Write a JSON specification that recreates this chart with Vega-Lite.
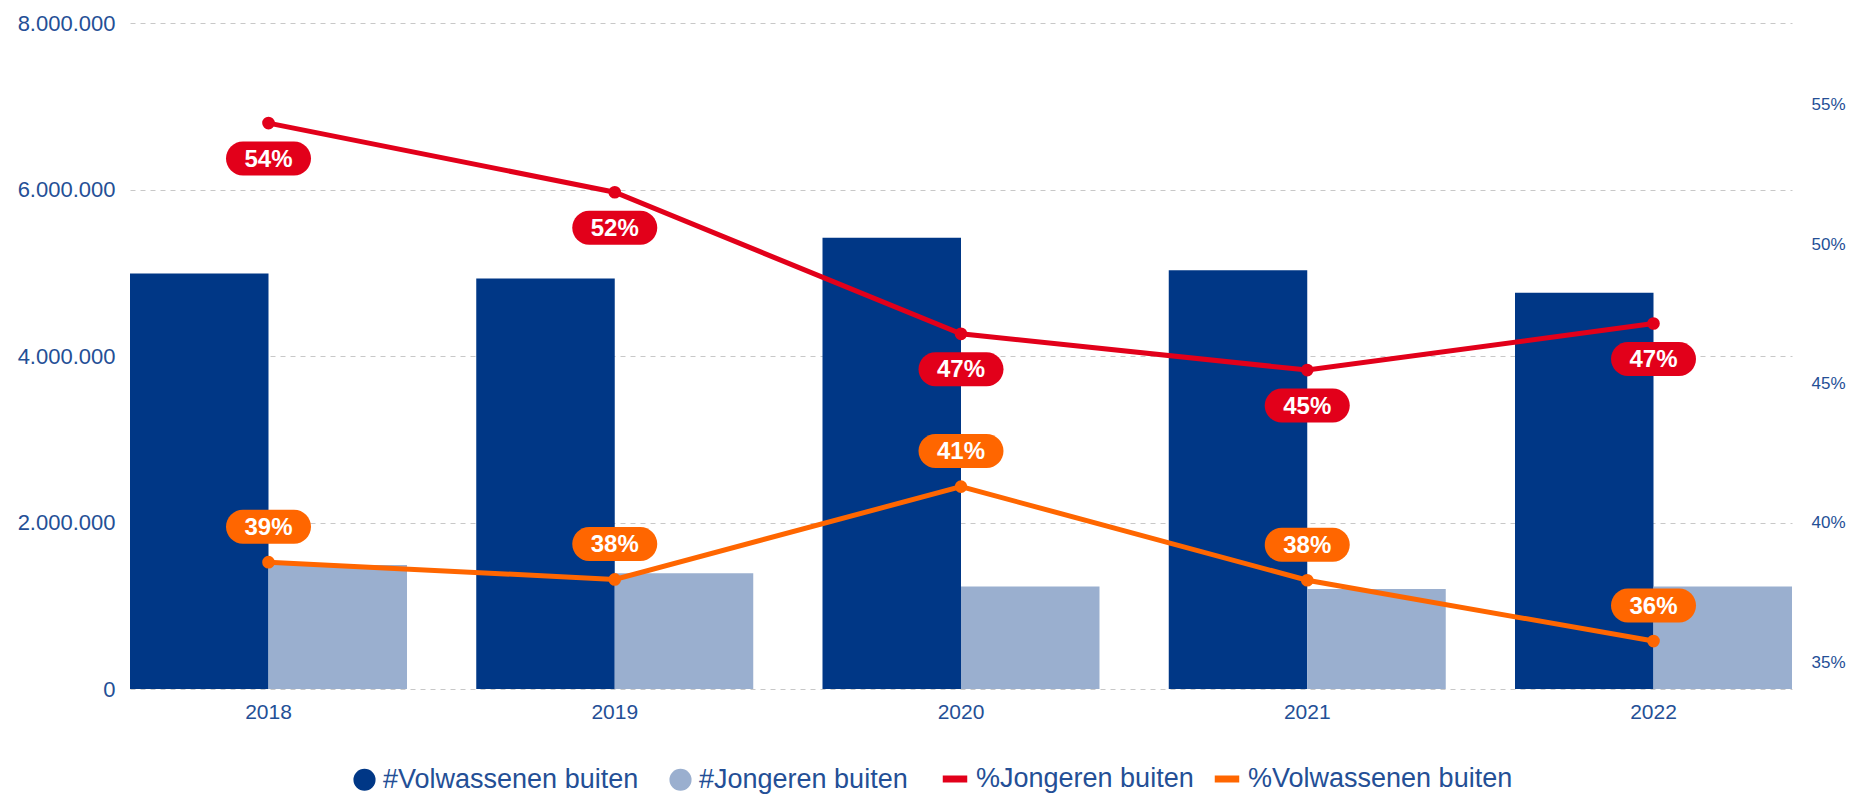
{
  "$schema": "https://vega.github.io/schema/vega-lite/v6.json",
  "width": 1662,
  "height": 666,
  "autosize": "none",
  "padding": {"left": 130, "top": 23, "right": 58, "bottom": 106},
  "config": {
    "view": {"stroke": null},
    "font": "Liberation Sans",
    "locale": {"number": {"decimal": ",", "thousands": ".", "grouping": [3], "currency": ["€ ", ""]}}
  },
  "datasets": {
    "staven": [
      {"jaar": "2018", "reeks": "#Volwassenen buiten", "aantal": 4990000},
      {"jaar": "2018", "reeks": "#Jongeren buiten", "aantal": 1490000},
      {"jaar": "2019", "reeks": "#Volwassenen buiten", "aantal": 4930000},
      {"jaar": "2019", "reeks": "#Jongeren buiten", "aantal": 1390000},
      {"jaar": "2020", "reeks": "#Volwassenen buiten", "aantal": 5420000},
      {"jaar": "2020", "reeks": "#Jongeren buiten", "aantal": 1230000},
      {"jaar": "2021", "reeks": "#Volwassenen buiten", "aantal": 5030000},
      {"jaar": "2021", "reeks": "#Jongeren buiten", "aantal": 1200000},
      {"jaar": "2022", "reeks": "#Volwassenen buiten", "aantal": 4760000},
      {"jaar": "2022", "reeks": "#Jongeren buiten", "aantal": 1230000}
    ],
    "lijnen": [
      {"jaar": "2018", "reeks": "%Jongeren buiten", "pct": 0.5434},
      {"jaar": "2019", "reeks": "%Jongeren buiten", "pct": 0.5186},
      {"jaar": "2020", "reeks": "%Jongeren buiten", "pct": 0.4678},
      {"jaar": "2021", "reeks": "%Jongeren buiten", "pct": 0.4548},
      {"jaar": "2022", "reeks": "%Jongeren buiten", "pct": 0.4715},
      {"jaar": "2018", "reeks": "%Volwassenen buiten", "pct": 0.3859},
      {"jaar": "2019", "reeks": "%Volwassenen buiten", "pct": 0.3797},
      {"jaar": "2020", "reeks": "%Volwassenen buiten", "pct": 0.4130},
      {"jaar": "2021", "reeks": "%Volwassenen buiten", "pct": 0.3794},
      {"jaar": "2022", "reeks": "%Volwassenen buiten", "pct": 0.3576}
    ]
  },
  "layer": [
    {
      "data": {"name": "staven"},
      "mark": {"type": "bar"},
      "encoding": {
        "x": {
          "field": "jaar", "type": "nominal",
          "scale": {"paddingInner": 0.2, "paddingOuter": 0},
          "axis": {"title": null, "labelAngle": 0, "domain": false, "ticks": false, "labelFontSize": 21, "labelColor": "#244f96", "labelPadding": 12, "grid": false}
        },
        "xOffset": {
          "field": "reeks", "type": "nominal",
          "sort": ["#Volwassenen buiten", "#Jongeren buiten"],
          "scale": {"paddingInner": 0, "paddingOuter": 0}
        },
        "y": {
          "field": "aantal", "type": "quantitative",
          "scale": {"domain": [0, 8000000], "nice": false},
          "axis": {"title": null, "values": [0, 2000000, 4000000, 6000000, 8000000], "format": ",d", "domain": false, "ticks": false, "labelFontSize": 22, "labelColor": "#244f96", "labelPadding": 15, "grid": true, "gridColor": "#c8c8c8", "gridDash": [5, 5], "gridWidth": 1}
        },
        "color": {
          "field": "reeks", "type": "nominal",
          "scale": {"domain": ["#Volwassenen buiten", "#Jongeren buiten"], "range": ["#003786", "#9aafcf"]},
          "legend": {"orient": "none", "legendX": 221, "legendY": 743, "direction": "horizontal", "title": null, "symbolType": "circle", "symbolSize": 490, "labelFontSize": 27, "labelColor": "#244f96", "labelOffset": 5, "columnPadding": 28, "labelLimit": 400}
        }
      }
    },
    {
      "data": {"name": "lijnen"},
      "encoding": {
        "x": {"field": "jaar", "type": "nominal"},
        "y": {
          "field": "pct", "type": "quantitative",
          "scale": {"domain": [0.3404, 0.5793], "nice": false, "zero": false},
          "axis": {"orient": "right", "title": null, "values": [0.35, 0.4, 0.45, 0.5, 0.55], "format": ".0%", "grid": false, "domain": false, "ticks": false, "labelFontSize": 17, "labelColor": "#244f96", "labelPadding": 19}
        }
      },
      "layer": [
        {
          "mark": {"type": "line", "strokeWidth": 5},
          "encoding": {
            "stroke": {
              "field": "reeks", "type": "nominal",
              "scale": {"domain": ["%Jongeren buiten", "%Volwassenen buiten"], "range": ["#e2001a", "#ff6600"]},
              "legend": {"orient": "none", "legendX": 809, "legendY": 740, "direction": "horizontal", "title": null, "symbolType": "stroke", "symbolSize": 600, "symbolStrokeWidth": 7, "labelFontSize": 27, "labelColor": "#244f96", "labelOffset": 5, "columnPadding": 6, "labelLimit": 400}
            }
          }
        },
        {
          "mark": {"type": "point", "filled": true, "size": 160, "opacity": 1, "strokeWidth": 0},
          "encoding": {
            "fill": {
              "field": "reeks", "type": "nominal",
              "scale": {"domain": ["%Jongeren buiten", "%Volwassenen buiten"], "range": ["#e2001a", "#ff6600"]},
              "legend": null
            }
          }
        },
        {
          "transform": [{"filter": "datum.reeks === '%Jongeren buiten'"}],
          "layer": [
            {
              "mark": {"type": "point", "shape": "M -0.6 -0.4 L 0.6 -0.4 C 0.8209 -0.4 1 -0.2209 1 0 C 1 0.2209 0.8209 0.4 0.6 0.4 L -0.6 0.4 C -0.8209 0.4 -1 0.2209 -1 0 C -1 -0.2209 -0.8209 -0.4 -0.6 -0.4 Z", "filled": true, "size": 7225, "opacity": 1, "strokeWidth": 0, "yOffset": 35.5},
              "encoding": {
                "fill": {"field": "reeks", "type": "nominal", "scale": {"domain": ["%Jongeren buiten", "%Volwassenen buiten"], "range": ["#e2001a", "#ff6600"]}, "legend": null}
              }
            },
            {
              "mark": {"type": "text", "color": "white", "fontSize": 24, "fontWeight": "bold", "yOffset": 36.5},
              "encoding": {"text": {"field": "pct", "type": "quantitative", "format": ".0%"}}
            }
          ]
        },
        {
          "transform": [{"filter": "datum.reeks === '%Volwassenen buiten'"}],
          "layer": [
            {
              "mark": {"type": "point", "shape": "M -0.6 -0.4 L 0.6 -0.4 C 0.8209 -0.4 1 -0.2209 1 0 C 1 0.2209 0.8209 0.4 0.6 0.4 L -0.6 0.4 C -0.8209 0.4 -1 0.2209 -1 0 C -1 -0.2209 -0.8209 -0.4 -0.6 -0.4 Z", "filled": true, "size": 7225, "opacity": 1, "strokeWidth": 0, "yOffset": -35.5},
              "encoding": {
                "fill": {"field": "reeks", "type": "nominal", "scale": {"domain": ["%Jongeren buiten", "%Volwassenen buiten"], "range": ["#e2001a", "#ff6600"]}, "legend": null}
              }
            },
            {
              "mark": {"type": "text", "color": "white", "fontSize": 24, "fontWeight": "bold", "yOffset": -34.5},
              "encoding": {"text": {"field": "pct", "type": "quantitative", "format": ".0%"}}
            }
          ]
        }
      ]
    }
  ],
  "resolve": {"scale": {"y": "independent"}}
}
